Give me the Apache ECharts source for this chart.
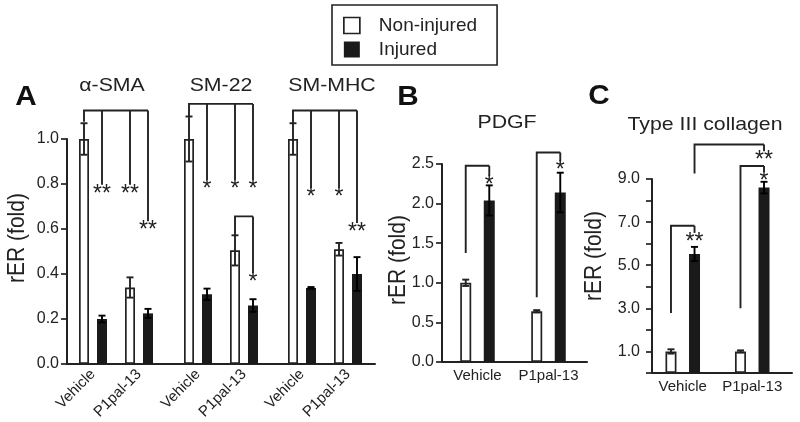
<!DOCTYPE html>
<html><head><meta charset="utf-8">
<script src="https://cdn.jsdelivr.net/npm/echarts@6/dist/echarts.min.js"></script>
<style>html,body{margin:0;padding:0;background:#fff}#c{width:800px;height:422px}</style>
</head><body><div id="c"></div>
<script>
// ---------- data ----------
const seriesNames = ['Non-injured', 'Injured'];
const treatments = ['Vehicle', 'P1pal-13'];
const titlesA = ['α-SMA', 'SM-22', 'SM-MHC'];
const titleB = 'PDGF';
const titleC = 'Type III collagen';
const yName = 'rER (fold)';
const panelLetters = ['A', 'B', 'C'];

// Panel A (per gene: [Vehicle, P1pal-13])
const smaNI = [1.00, 0.34],   smaNIerr = [0.07, 0.045];
const smaInj = [0.20, 0.225], smaInjErr = [0.015, 0.02];
const sm22NI = [1.00, 0.505], sm22NIerr = [0.10, 0.067];
const sm22Inj = [0.31, 0.26], sm22InjErr = [0.025, 0.028];
const smmhcNI = [1.00, 0.51], smmhcNIerr = [0.07, 0.028];
const smmhcInj = [0.338, 0.40], smmhcInjErr = [0.004, 0.075];
// Panel B
const pdgfNI = [1.00, 0.64], pdgfNIerr = [0.04, 0.015];
const pdgfInj = [2.04, 2.14], pdgfInjErr = [0.19, 0.25];
// Panel C
const col3NI = [1.00, 1.00], col3NIerr = [0.10, 0.05];
const col3Inj = [5.52, 8.60], col3InjErr = [0.33, 0.27];

// y-axis tick settings
const yTicksA = {min: 0, max: 1.0, interval: 0.2};
const yTicksB = {min: 0, max: 2.5, interval: 0.5};
const yTicksC = {min: 0, max: 9, interval: 1};

// significance brackets: from [cat, side(0=NI,1=Inj), yStart], top y, drops [cat, side, yEnd, label]
const bracketsSMA = [{from: [0, 0, 1.077], top: 1.127, drops: [[0, 1, 0.797, '**'], [1, 0, 0.797, '**'], [1, 1, 0.634, '**']]}];
const bracketsSM22 = [
  {from: [0, 0, 1.10], top: 1.156, drops: [[0, 1, 0.819, '*'], [1, 0, 0.819, '*'], [1, 1, 0.819, '*']]},
  {from: [1, 0, 0.572], top: 0.656, drops: [[1, 1, 0.404, '*']]}
];
const bracketsSMMHC = [{from: [0, 0, 1.07], top: 1.127, drops: [[0, 1, 0.782, '*'], [1, 0, 0.782, '*'], [1, 1, 0.627, '**']]}];
const bracketsPDGF = [
  {from: [0, 0, 1.376], top: 2.478, drops: [[0, 1, 2.35, '*']]},
  {from: [1, 0, 0.816], top: 2.646, drops: [[1, 1, 2.535, '*']]}
];
const bracketsCOL3 = [
  {from: [0, 0, 2.78], top: 6.83, drops: [[0, 1, 6.5, '**']]},
  {from: [1, 0, 3.0], top: 9.6, drops: [[1, 1, 9.32, '*']]},
  {from: [0, 1, 9.26], top: 10.6, drops: [[1, 1, 10.29, '**']]}
];

// ---------- styles ----------
const FONT = '"Liberation Sans", Arial, sans-serif';
const INK = '#222';
const BLACK = '#1a1a1a';
const LW = 1.9;

const chart = echarts.init(document.getElementById('c'), null, {renderer: 'canvas'});

const grids = [], xAxes = [], yAxes = [], series = [];

function addFrame(rect, yt, labelFmt, margin) {
  const idx = grids.length;
  grids.push(Object.assign({containLabel: false, outerBoundsMode: 'none'}, rect));
  xAxes.push({type: 'category', gridIndex: idx, data: [''], axisLine: {show: true, lineStyle: {color: INK, width: 2}},
    axisTick: {show: false}, axisLabel: {show: false}, splitLine: {show: false}});
  yAxes.push({type: 'value', gridIndex: idx, min: yt.min, max: yt.max, interval: yt.interval,
    axisLine: {show: true, lineStyle: {color: INK, width: 2}},
    axisTick: {show: true, inside: false, length: 6, lineStyle: {color: INK, width: 1.7}},
    axisLabel: {show: true, margin: margin, fontSize: 16, fontFamily: FONT, color: INK, formatter: labelFmt},
    splitLine: {show: false}});
}

function addBars(rect, yt, ni, niErr, inj, injErr, brackets, barW, gapPct, rotate, labelMargin) {
  const idx = grids.length;
  grids.push(Object.assign({containLabel: false, outerBoundsMode: 'none'}, rect));
  xAxes.push({type: 'category', gridIndex: idx, data: treatments,
    axisLine: {show: false}, axisTick: {show: false}, splitLine: {show: false},
    axisLabel: {show: true, interval: 0, rotate: rotate, margin: labelMargin, fontSize: 15, fontFamily: FONT, color: INK}});
  yAxes.push({type: 'value', gridIndex: idx, min: yt.min, max: yt.max, interval: yt.interval, show: false});
  const off = (barW + barW * gapPct / 100) / 2;
  series.push({type: 'bar', name: seriesNames[0], xAxisIndex: idx, yAxisIndex: idx, data: ni,
    barWidth: barW, barGap: gapPct + '%', itemStyle: {color: '#fff', borderColor: INK, borderWidth: 1.7}, silent: true, z: 2});
  series.push({type: 'bar', name: seriesNames[1], xAxisIndex: idx, yAxisIndex: idx, data: inj,
    barWidth: barW, barGap: gapPct + '%', itemStyle: {color: BLACK}, silent: true, z: 2});
  const errData = [];
  ni.forEach((v, i) => errData.push([i, v, niErr[i], 0]));
  inj.forEach((v, i) => errData.push([i, v, injErr[i], 1]));
  series.push({type: 'custom', xAxisIndex: idx, yAxisIndex: idx, data: errData, clip: false, silent: true, z: 5,
    renderItem: function (params, api) {
      const cat = api.value(0), v = api.value(1), e = api.value(2), side = api.value(3);
      const t = api.coord([cat, v + e]), b = api.coord([cat, v - e]);
      const x = t[0] + (side ? off : -off), cw = 3.5;
      const st = {stroke: side ? '#000' : INK, lineWidth: LW};
      return {type: 'group', children: [
        {type: 'line', shape: {x1: x, y1: t[1], x2: x, y2: b[1]}, style: st},
        {type: 'line', shape: {x1: x - cw, y1: t[1], x2: x + cw, y2: t[1]}, style: st},
        {type: 'line', shape: {x1: x - cw, y1: b[1], x2: x + cw, y2: b[1]}, style: st}
      ]};
    }});
  series.push({type: 'custom', xAxisIndex: idx, yAxisIndex: idx, clip: false, silent: true, z: 6,
    data: brackets.map(b => [b.from[0], b.top]),
    renderItem: function (params, api) {
      const br = brackets[params.dataIndex];
      const p = (cat, side, y) => { const c = api.coord([cat, y]); return [c[0] + (side ? off : -off), c[1]]; };
      const st = {stroke: INK, lineWidth: LW, fill: null};
      const s0 = p(br.from[0], br.from[1], br.from[2]);
      const s1 = p(br.from[0], br.from[1], br.top);
      const last = br.drops[br.drops.length - 1];
      const e1 = p(last[0], last[1], br.top);
      const children = [{type: 'polyline', shape: {points: [s0, s1, e1]}, style: st}];
      br.drops.forEach(d => {
        const a = p(d[0], d[1], br.top), z = p(d[0], d[1], d[2]);
        children.push({type: 'line', shape: {x1: a[0], y1: a[1], x2: z[0], y2: z[1]}, style: st});
        children.push({type: 'text', x: z[0], y: z[1] - 2, style: {text: d[3], fill: INK, fontSize: 23,
          fontFamily: FONT, align: 'center', verticalAlign: 'top'}});
      });
      return {type: 'group', children: children};
    }});
}

const fmt1 = v => v.toFixed(1);
const fmtOdd = v => (Math.round(v) % 2 === 1 ? v.toFixed(1) : '');

// Panel A
addFrame({left: 67, top: 139, width: 308, height: 225}, yTicksA, fmt1, 8);
addBars({left: 70, top: 139, width: 92, height: 225}, yTicksA, smaNI, smaNIerr, smaInj, smaInjErr, bracketsSMA, 10, 80, 45, 8);
addBars({left: 175, top: 139, width: 92, height: 225}, yTicksA, sm22NI, sm22NIerr, sm22Inj, sm22InjErr, bracketsSM22, 10, 80, 45, 8);
addBars({left: 279, top: 139, width: 92, height: 225}, yTicksA, smmhcNI, smmhcNIerr, smmhcInj, smmhcInjErr, bracketsSMMHC, 10, 80, 45, 8);
// Panel B
addFrame({left: 442, top: 164, width: 145, height: 198}, yTicksB, fmt1, 8);
addBars({left: 442, top: 164, width: 142, height: 198}, yTicksB, pdgfNI, pdgfNIerr, pdgfInj, pdgfInjErr, bracketsPDGF, 11, 114, 0, 6);
// Panel C
addFrame({left: 652, top: 179, width: 140, height: 194}, yTicksC, fmtOdd, 12);
addBars({left: 648, top: 179, width: 139, height: 194}, yTicksC, col3NI, col3NIerr, col3Inj, col3InjErr, bracketsCOL3, 11, 114, 0, 6);

function txt(x, y, s, size, extra, sx) {
  return Object.assign({type: 'text', x: x, y: y, silent: true, scaleX: sx || 1,
    style: Object.assign({text: s, fill: INK, fontSize: size, fontFamily: FONT, align: 'center', verticalAlign: 'middle'}, extra || {})});
}
const graphics = [
  txt(112, 86, titlesA[0], 19, null, 1.12), txt(221, 86, titlesA[1], 19, null, 1.12), txt(332, 86, titlesA[2], 19, null, 1.12),
  txt(507, 123, titleB, 19, null, 1.12), txt(705, 125, titleC, 19, null, 1.12),
  txt(26, 98, panelLetters[0], 27, {fontWeight: 'bold', fill: '#111'}, 1.1),
  txt(408, 98, panelLetters[1], 27, {fontWeight: 'bold', fill: '#111'}, 1.1),
  txt(599, 97, panelLetters[2], 27, {fontWeight: 'bold', fill: '#111'}, 1.1),
  Object.assign(txt(18, 238, yName, 21), {rotation: Math.PI / 2, scaleY: 1.12}),
  Object.assign(txt(399, 260, yName, 21), {rotation: Math.PI / 2, scaleY: 1.12}),
  Object.assign(txt(595, 256, yName, 21), {rotation: Math.PI / 2, scaleY: 1.12})
];

chart.setOption({
  animation: false,
  backgroundColor: '#fff',
  legend: {
    orient: 'vertical', left: 332, top: 5, itemWidth: 16, itemHeight: 16, itemGap: 5,
    padding: [11, 20, 6, 11], borderColor: INK, borderWidth: 1.6, borderRadius: 0, selectedMode: false,
    textStyle: {fontSize: 19, fontFamily: FONT, color: INK, padding: [0, 0, 0, 14]},
    data: [
      {name: seriesNames[0], icon: 'rect', itemStyle: {color: '#fff', borderColor: INK, borderWidth: 1.7}},
      {name: seriesNames[1], icon: 'rect', itemStyle: {color: BLACK}}
    ]
  },
  grid: grids, xAxis: xAxes, yAxis: yAxes, series: series, graphic: graphics
});
</script></body></html>
